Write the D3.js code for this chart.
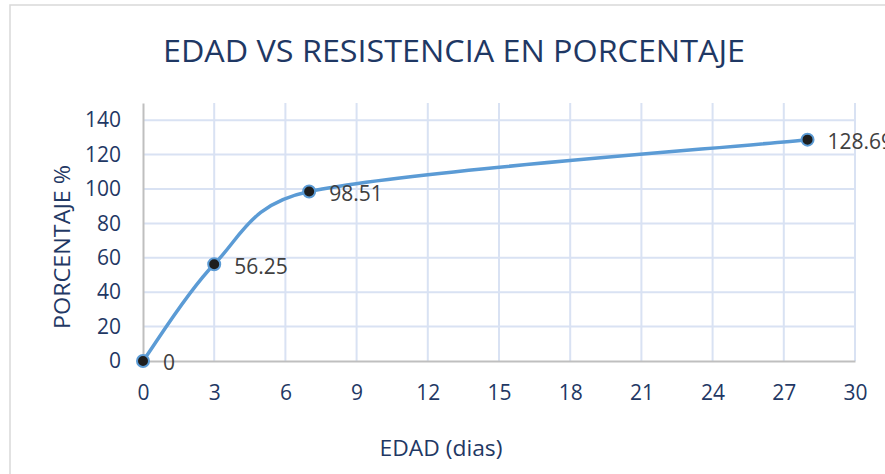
<!DOCTYPE html>
<html>
<head>
<meta charset="utf-8">
<script src="https://cdn.jsdelivr.net/npm/d3@7"></script>
<style>
  body { margin: 0; background: #fff; }
  text { font-family: "Open Sans", sans-serif; }
</style>
</head>
<body>
<div id="chart"></div>
<script>
// data
var edad = [0, 3, 7, 28];
var porcentaje = [0, 56.25, 98.51, 128.69];
var etiquetas = ["0", "56.25", "98.51", "128.69"];
var xTicks = [0, 3, 6, 9, 12, 15, 18, 21, 24, 27, 30];
var yTicks = [0, 20, 40, 60, 80, 100, 120, 140];

var svgWidth = 885, svgHeight = 474;
var margin = { top: 103, left: 143, right: 30, bottom: 113 };
var width = 855 - margin.left;
var height = 361 - margin.top;

var svg = d3.select("#chart").append("svg")
  .attr("width", svgWidth)
  .attr("height", svgHeight);

// chart frame
svg.append("rect")
  .attr("x", 10).attr("y", 5)
  .attr("width", 900).attr("height", 500)
  .attr("fill", "#fff")
  .attr("stroke", "#d9d9d9")
  .attr("stroke-width", 1.5);

svg.append("text")
  .attr("x", 454).attr("y", 62)
  .attr("text-anchor", "middle")
  .attr("fill", "#1f3864")
  .attr("font-size", 31)
  .attr("textLength", 582)
  .attr("lengthAdjust", "spacingAndGlyphs")
  .text("EDAD VS RESISTENCIA EN PORCENTAJE");

var g = svg.append("g")
  .attr("transform", `translate(${margin.left}, ${margin.top})`);

var x = d3.scaleLinear().domain([0, 30]).range([0, width]);
var y = d3.scaleLinear().domain([0, 150]).range([height, 0]);

// gridlines
g.append("g").selectAll("line.h")
  .data(yTicks.slice(1))
  .join("line")
  .attr("x1", 0).attr("x2", width)
  .attr("y1", d => y(d)).attr("y2", d => y(d))
  .attr("stroke", "#d9e2f3").attr("stroke-width", 2);

g.append("g").selectAll("line.v")
  .data(xTicks.slice(1))
  .join("line")
  .attr("x1", d => x(d)).attr("x2", d => x(d))
  .attr("y1", 0).attr("y2", height)
  .attr("stroke", "#d9e2f3").attr("stroke-width", 2);

// axes
var bottomAxis = d3.axisBottom(x).tickValues(xTicks).tickSize(0).tickPadding(22);
var leftAxis = d3.axisLeft(y).tickValues(yTicks).tickSize(0).tickPadding(22);

var xAxis = g.append("g")
  .attr("transform", `translate(0, ${height})`)
  .call(bottomAxis);
var yAxis = g.append("g").call(leftAxis);

[xAxis, yAxis].forEach(function(a) {
  a.select(".domain").attr("stroke", "#bfbfbf").attr("stroke-width", 2);
  a.selectAll("text")
    .attr("fill", "#1f3864")
    .attr("font-size", 21)
    .attr("font-family", "Open Sans, sans-serif");
});
xAxis.selectAll("text").attr("dy", "0.35em").attr("y", 32);
yAxis.selectAll("text").attr("x", -22);

// axis titles
svg.append("text")
  .attr("transform", "translate(70, 247) rotate(-90)")
  .attr("text-anchor", "middle")
  .attr("fill", "#1f3864")
  .attr("font-size", 22)
  .attr("textLength", 164)
  .attr("lengthAdjust", "spacingAndGlyphs")
  .text("PORCENTAJE %");

svg.append("text")
  .attr("x", 441).attr("y", 456)
  .attr("text-anchor", "middle")
  .attr("fill", "#1f3864")
  .attr("font-size", 22)
  .attr("textLength", 123)
  .attr("lengthAdjust", "spacingAndGlyphs")
  .text("EDAD (dias)");

// Excel-like smoothed line: bezier arms of 1/6 neighbour span,
// capped at half the segment length
function smoothPath(p) {
  var path = d3.path();
  path.moveTo(p[0][0], p[0][1]);
  for (var i = 0; i < p.length - 1; i++) {
    var p0 = p[Math.max(i - 1, 0)], p1 = p[i], p2 = p[i + 1], p3 = p[Math.min(i + 2, p.length - 1)];
    var seg = Math.hypot(p2[0] - p1[0], p2[1] - p1[1]);
    var a = [(p2[0] - p0[0]) / 6, (p2[1] - p0[1]) / 6];
    var b = [(p3[0] - p1[0]) / 6, (p3[1] - p1[1]) / 6];
    [a, b].forEach(function(v) {
      var l = Math.hypot(v[0], v[1]);
      if (l > seg / 2) { v[0] *= seg / 2 / l; v[1] *= seg / 2 / l; }
    });
    path.bezierCurveTo(p1[0] + a[0], p1[1] + a[1], p2[0] - b[0], p2[1] - b[1], p2[0], p2[1]);
  }
  return path.toString();
}

var pts = edad.map((d, i) => [d, porcentaje[i]]);
var pix = pts.map(d => [x(d[0]), y(d[1])]);

g.append("path")
  .attr("d", smoothPath(pix))
  .attr("fill", "none")
  .attr("stroke", "#5b9bd5")
  .attr("stroke-width", 3.5);

g.selectAll("circle")
  .data(pts)
  .join("circle")
  .attr("cx", d => x(d[0]))
  .attr("cy", d => y(d[1]))
  .attr("r", 6)
  .attr("fill", "#1e1e1e")
  .attr("stroke", "#5b9bd5")
  .attr("stroke-width", 2);

g.selectAll("text.lbl")
  .data(pts)
  .join("text")
  .attr("class", "lbl")
  .attr("x", d => x(d[0]) + 20)
  .attr("y", d => y(d[1]) + 2)
  .attr("dy", "0.35em")
  .attr("fill", "#404040")
  .attr("font-size", 21)
  .text((d, i) => etiquetas[i]);
</script>
</body>
</html>
